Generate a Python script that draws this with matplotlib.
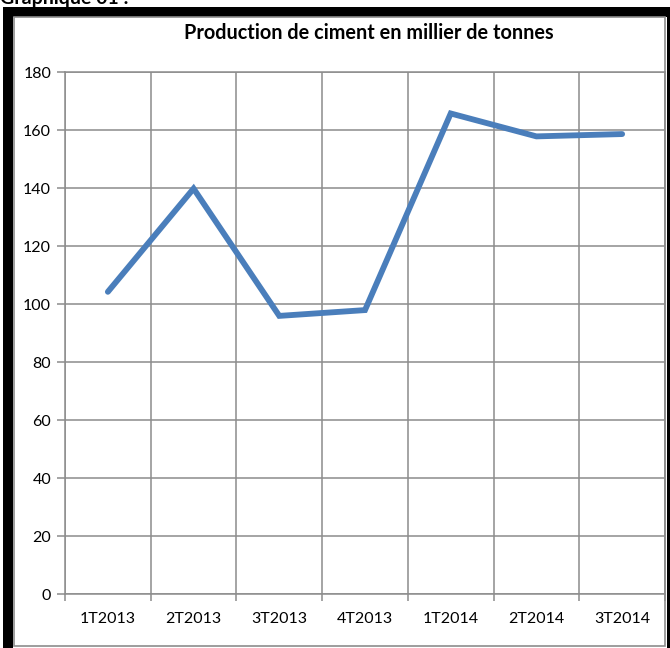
import matplotlib.pyplot as plt
from matplotlib.patches import Rectangle
from matplotlib.ticker import FixedLocator

# Production trimestrielle de ciment (milliers de tonnes)
trimestres = ['1T2013', '2T2013', '3T2013', '4T2013', '1T2014', '2T2014', '3T2014']
production = [104.2, 139.8, 95.9, 97.9, 165.7, 157.8, 158.6]
graduations = [0, 20, 40, 60, 80, 100, 120, 140, 160, 180]

plt.rcParams['font.family'] = ['Lato', 'DejaVu Sans']

W, H = 670, 648
fig = plt.figure(figsize=(W / 100, H / 100), dpi=100)

def px(x, y, w, h):
    # rectangle en pixels (origine en haut a gauche) -> coordonnees figure
    return (x / W, 1 - (y + h) / H), w / W, h / H

# cadre noir epais + bordure grise fine du graphique
for (x, y, w, h), c in [((3, 7, 10, 641), 'black'), ((3, 7, 667, 10), 'black'),
                        ((667, 7, 3, 641), 'black')]:
    xy, ww, hh = px(x, y, w, h)
    fig.add_artist(Rectangle(xy, ww, hh, transform=fig.transFigure,
                             facecolor=c, edgecolor='none', zorder=5))
xy, ww, hh = px(14, 17, 651, 629)
fig.add_artist(Rectangle(xy, ww, hh, transform=fig.transFigure, facecolor='none',
                         edgecolor='#8c8c8c', linewidth=1.2, zorder=5))

fig.text(0.0, 1 - 4 / H, 'Graphique 01 :', fontsize=14, fontweight='bold',
         ha='left', va='baseline')

ax = fig.add_axes([65 / W, (H - 594) / H, 600 / W, 522 / H])
x = list(range(len(trimestres)))
ax.plot(x, production, color='#4a7ebb', linewidth=4.2, solid_capstyle='round',
        solid_joinstyle='miter', zorder=3)

ax.set_xlim(-0.5, len(trimestres) - 0.5)
ax.set_ylim(0, 180)
ax.set_yticks(graduations)
ax.set_xticks(x)
ax.set_xticklabels(trimestres)
ax.xaxis.set_minor_locator(FixedLocator([i - 0.5 for i in range(len(trimestres) + 1)]))

grid_c = '#8c8c8c'
ax.grid(True, axis='y', which='major', color=grid_c, linewidth=1.1)
ax.grid(True, axis='x', which='minor', color=grid_c, linewidth=1.1)
ax.tick_params(axis='x', which='major', length=0, pad=13, labelsize=11.5)
ax.tick_params(axis='x', which='minor', length=5, width=1.1, color=grid_c, direction='out')
ax.tick_params(axis='y', length=6, width=1.1, color=grid_c, labelsize=11.5, pad=4)
for s in ax.spines.values():
    s.set_color(grid_c)
    s.set_linewidth(1.1)
ax.set_axisbelow(True)

fig.text(369 / W, 1 - 33 / H, 'Production de ciment en millier de tonnes',
         fontsize=14.3, fontweight='bold', ha='center', va='center')

fig.savefig('out.png', dpi=100)
